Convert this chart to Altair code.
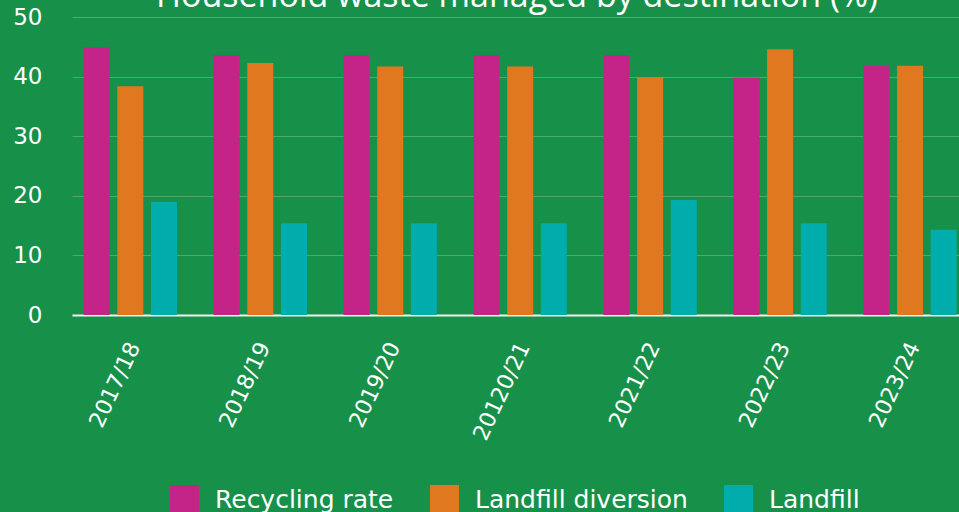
import altair as alt
import pandas as pd

years = ["2017/18", "2018/19", "2019/20", "20120/21", "2021/22", "2022/23", "2023/24"]
series = ["Recycling rate", "Landfill diversion", "Landfill"]
recycling = [44.9, 43.6, 43.6, 43.6, 43.6, 39.8, 41.8]
diversion = [38.4, 42.3, 41.7, 41.7, 39.9, 44.6, 41.8]
landfill = [19.0, 15.4, 15.4, 15.4, 19.3, 15.4, 14.3]
colors = ["#c42387", "#e07820", "#00adad"]
title_text = "Household waste managed by destination (%)"

rows = []
for i, y in enumerate(years):
    for s, vals in zip(series, [recycling, diversion, landfill]):
        rows.append({"year": y, "series": s, "value": vals[i]})
df = pd.DataFrame(rows)

bars = alt.Chart(df).mark_bar().encode(
    x=alt.X("year:N", sort=years, title=None,
            scale=alt.Scale(paddingInner=0.2815, paddingOuter=0.0535, align=0.835),
            axis=alt.Axis(labelAngle=-65, labelAlign="right", labelBaseline="middle",
                          labelFont="DejaVu Sans", labelFontSize=22, labelColor="white",
                          ticks=False, labelPadding=28, labelOffset=4,
                          domainColor="#f2f2f2", domainWidth=2, grid=False)),
    xOffset=alt.XOffset("series:N", sort=series,
                        scale=alt.Scale(paddingInner=0.229, paddingOuter=0)),
    y=alt.Y("value:Q", title=None,
            scale=alt.Scale(domain=[0, 50], nice=False),
            axis=alt.Axis(values=[0, 10, 20, 30, 40, 50], labelFont="DejaVu Sans",
                          labelFontSize=23, labelColor="white", ticks=False,
                          labelPadding=30, domain=False, gridColor="#4fa96f",
                          gridWidth=1)),
    color=alt.Color("series:N", sort=series,
                    scale=alt.Scale(domain=series, range=colors),
                    legend=alt.Legend(title=None, orient="none", legendX=98, legendY=468,
                                      direction="horizontal", symbolType="square",
                                      symbolSize=841, symbolStrokeWidth=0,
                                      symbolOpacity=1,
                                      labelFont="DejaVu Sans", labelFontSize=25,
                                      labelColor="white", labelLimit=500,
                                      labelOffset=16, columnPadding=36, padding=0)),
)

title = alt.Chart(pd.DataFrame({"t": [title_text]})).mark_text(
    font="Open Sans", fontSize=34, color="white", align="center",
    baseline="alphabetic",
).encode(text="t:N", x=alt.value(445), y=alt.value(-10))

chart = alt.layer(bars, title).properties(
    width=887,
    height=298,
    autosize=alt.AutoSizeParams(type="none"),
    padding={"left": 72, "top": 17, "right": 0, "bottom": 197},
).configure(
    background="#17914a",
).configure_view(stroke=None)

chart.save("out.html", embed_options={"renderer": "svg", "actions": False})
